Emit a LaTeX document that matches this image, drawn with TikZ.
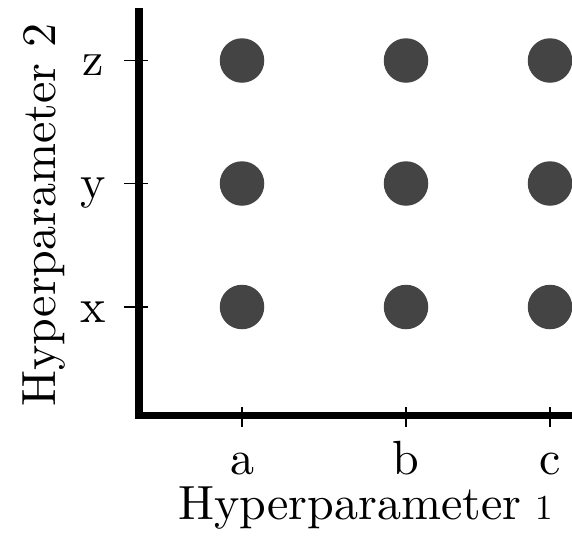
\documentclass[tikz,border=0pt]{standalone}
\usepackage{fontspec}
\setmainfont{lmroman10-regular.otf}
\begin{document}
\begin{tikzpicture}[x=1pt,y=-1pt,
  dot/.style={circle,fill=dotgray,draw=none,minimum size=44.5pt,inner sep=0pt},
  axisline/.style={line width=8pt,line cap=rect},
  tick/.style={line width=1.6pt},
  lbl/.style={font=\fontsize{48}{48}\selectfont,inner sep=0pt,anchor=base},
  ticklbl/.style={font=\fontsize{48}{48}\selectfont,inner sep=0pt,anchor=base}]
\definecolor{dotgray}{HTML}{444444}
\useasboundingbox (0,0) rectangle (572,536);
\fill[white] (0,0) rectangle (572,536);
% axes
\coordinate (top) at (139,12);
\coordinate (corner) at (139,415);
\coordinate (right) at (576,415);
\draw[axisline] (top) -- (corner);
\draw[axisline,line width=7pt] (corner) -- (right);
% y ticks
\coordinate (tz1) at (124,60.5);  \coordinate (tz2) at (148,60.5);
\coordinate (ty1) at (124,183.5); \coordinate (ty2) at (148,183.5);
\coordinate (tx1) at (124,307);   \coordinate (tx2) at (148,307);
\draw[tick] (tz1) -- (tz2);
\draw[tick] (ty1) -- (ty2);
\draw[tick] (tx1) -- (tx2);
% x ticks
\coordinate (ta1) at (242,407); \coordinate (ta2) at (242,427);
\coordinate (tb1) at (406,407); \coordinate (tb2) at (406,427);
\coordinate (tc1) at (550,407); \coordinate (tc2) at (550,427);
\draw[tick] (ta1) -- (ta2);
\draw[tick] (tb1) -- (tb2);
\draw[tick] (tc1) -- (tc2);
% dots
\node[dot] (az) at (242,60.5) {};
\node[dot] (bz) at (406,60.5) {};
\node[dot] (cz) at (550,60.5) {};
\node[dot] (ay) at (242,183.5) {};
\node[dot] (by) at (406,183.5) {};
\node[dot] (cy) at (550,183.5) {};
\node[dot] (ax) at (242,307) {};
\node[dot] (bx) at (406,307) {};
\node[dot] (cx) at (550,307) {};
% tick labels
\node[ticklbl] (lz) at (93,75) {z};
\node[ticklbl] (ly) at (93,198) {y};
\node[ticklbl] (lx) at (93,322) {x};
\node[ticklbl] (la) at (242,474) {a};
\node[ticklbl] (lb) at (406,474) {b};
\node[ticklbl] (lc) at (550,474) {c};
% axis titles
\node[lbl] (h1) at (365.5,519) {Hyperparameter\hspace{14pt}{\fontsize{35}{35}\selectfont 1}};
\node[lbl,rotate=90] (h2) at (55,215) {Hyperparameter 2};
\end{tikzpicture}
\end{document}
